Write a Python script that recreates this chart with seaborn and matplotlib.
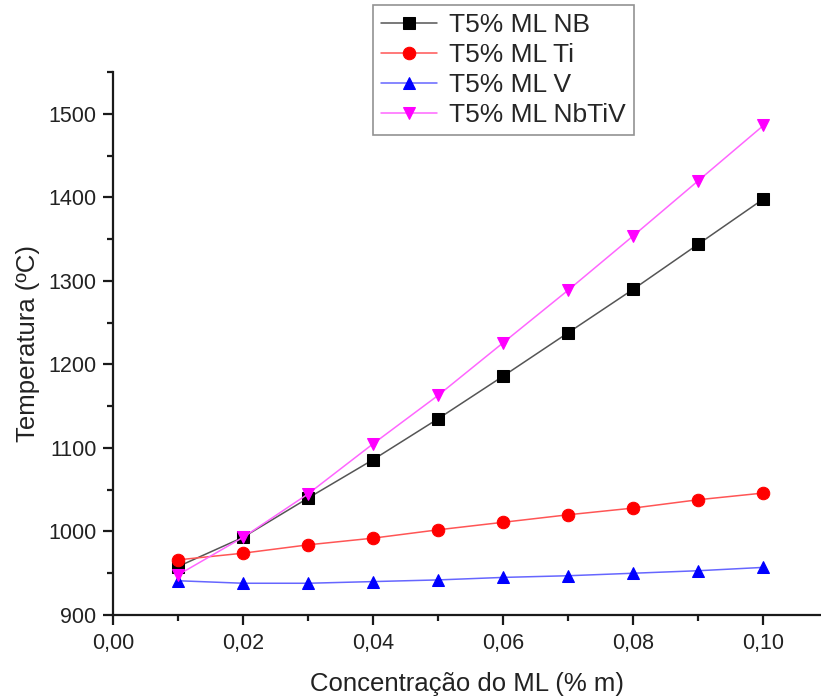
import matplotlib
matplotlib.use("Agg")
import matplotlib.pyplot as plt
import seaborn as sns
import pandas as pd
from matplotlib.ticker import MultipleLocator, FuncFormatter

concentracao = [0.01, 0.02, 0.03, 0.04, 0.05, 0.06, 0.07, 0.08, 0.09, 0.10]
t_nb = [958, 993, 1040, 1086, 1135, 1186, 1238, 1290, 1344, 1398]
t_ti = [966, 974, 984, 992, 1002, 1011, 1020, 1028, 1038, 1046]
t_v = [941, 938, 938, 940, 942, 945, 947, 950, 953, 957]
t_nbtiv = [948, 993, 1045, 1105, 1163, 1226, 1289, 1354, 1420, 1486]
series_names = ["T5% ML NB", "T5% ML Ti", "T5% ML V", "T5% ML NbTiV"]

sns.set_theme(style="ticks")
plt.rcParams["font.family"] = ["Liberation Sans", "DejaVu Sans"]

fig = plt.figure(figsize=(8.21, 6.99), dpi=100)
ax = fig.add_axes([113 / 821, 84 / 699, (820 - 113) / 821, (615 - 72) / 699])

styles = [
    (t_nb, "#000000", "#555555", "s"),
    (t_ti, "#ff0000", "#ff5555", "o"),
    (t_v, "#0000ff", "#6666ff", "^"),
    (t_nbtiv, "#ff00ff", "#ff66ff", "v"),
]

for name, (vals, mcol, lcol, mk) in zip(series_names, styles):
    df = pd.DataFrame({"x": concentracao, "y": vals})
    sns.lineplot(data=df, x="x", y="y", ax=ax, color=lcol, linewidth=1.1,
                 marker=mk, markersize=9, markerfacecolor=mcol,
                 markeredgecolor=mcol, label=name)

ax.set_xlim(0, 0.1087)
ax.set_ylim(900, 1550)
ax.xaxis.set_major_locator(MultipleLocator(0.02))
ax.xaxis.set_minor_locator(MultipleLocator(0.01))
ax.yaxis.set_major_locator(MultipleLocator(100))
ax.yaxis.set_minor_locator(MultipleLocator(50))
ax.xaxis.set_major_formatter(FuncFormatter(lambda v, p: f"{v:.2f}".replace(".", ",")))
ax.yaxis.set_major_formatter(FuncFormatter(lambda v, p: "" if v > 1500 else f"{v:.0f}"))

for s in ["top", "right"]:
    ax.spines[s].set_visible(False)
for s in ["left", "bottom"]:
    ax.spines[s].set_linewidth(1.6)
    ax.spines[s].set_color("#1a1a1a")

ax.tick_params(axis="both", which="major", direction="out", length=7, width=1.6,
               labelsize=15.5, colors="#1a1a1a", labelcolor="#222222")
ax.tick_params(axis="y", which="major", pad=5)
ax.tick_params(axis="x", which="major", pad=6)
ax.tick_params(axis="both", which="minor", direction="out", length=4, width=1.6,
               colors="#1a1a1a")

ax.set_xlabel("Concentração do ML (% m)", fontsize=18.5, color="#222222", labelpad=13)
ax.set_ylabel("Temperatura (ºC)", fontsize=18.5, color="#222222", labelpad=6)

leg = ax.legend(loc="upper left", bbox_to_anchor=(373 / 821, 1 - 5 / 699),
                bbox_transform=fig.transFigure, borderaxespad=0, fontsize=19,
                frameon=True, fancybox=False, edgecolor="#777777",
                handlelength=2.1, handletextpad=0.45, labelspacing=0.22,
                borderpad=0.32)
leg.get_frame().set_linewidth(1.2)

fig.savefig("out.png", dpi=100)
